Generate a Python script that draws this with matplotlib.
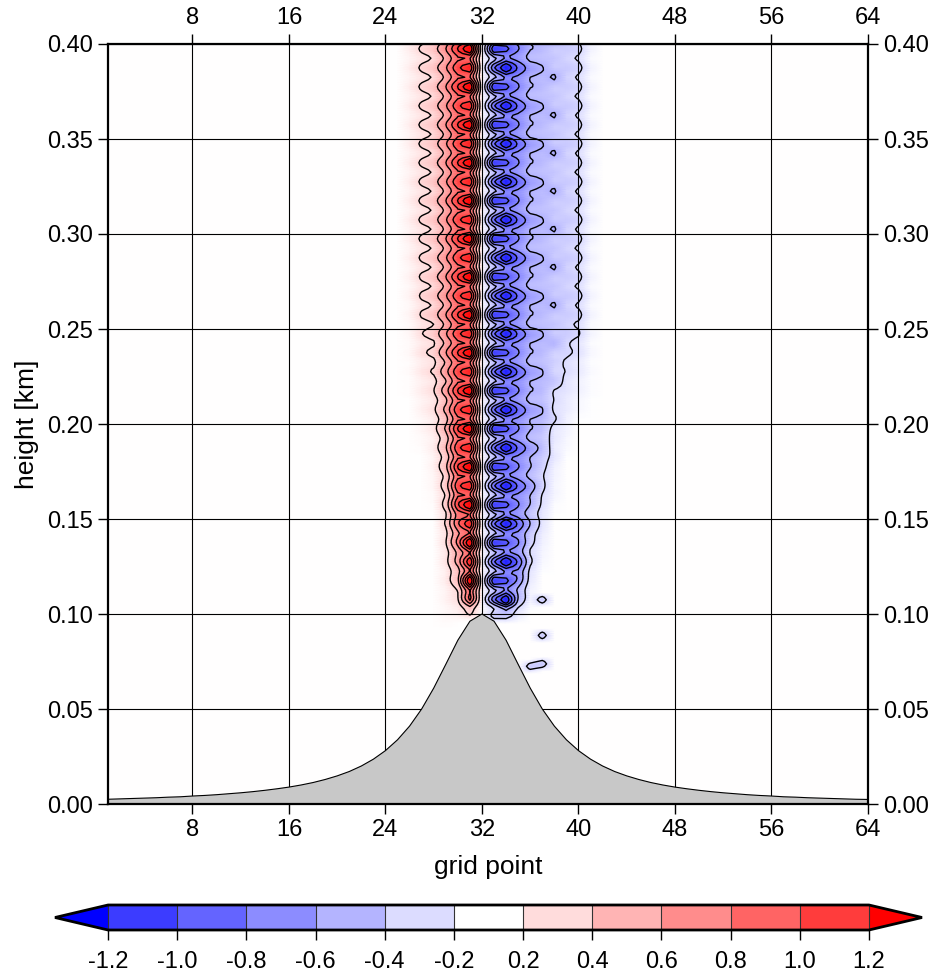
import numpy as np
import matplotlib
matplotlib.use("Agg")
import matplotlib.pyplot as plt
from matplotlib.colors import ListedColormap, BoundaryNorm, LinearSegmentedColormap
import matplotlib.colorbar as mcolorbar

plt.rcParams['font.family'] = ['Liberation Sans', 'DejaVu Sans']

# ---------------- data ----------------
grid_x = np.arange(1, 65)
# terrain height [km] at every grid point 1..64
terrain_km = [0.0025, 0.0027, 0.0029, 0.0031, 0.0033, 0.0036, 0.0038, 0.0042,
              0.0045, 0.0049, 0.0054, 0.0059, 0.0065, 0.0072, 0.0080, 0.0089,
              0.0100, 0.0113, 0.0129, 0.0148, 0.0171, 0.0200, 0.0236, 0.0281,
              0.0338, 0.0410, 0.0500, 0.0610, 0.0735, 0.0862, 0.0962, 0.1000,
              0.0962, 0.0862, 0.0735, 0.0610, 0.0500, 0.0410, 0.0338, 0.0281,
              0.0236, 0.0200, 0.0171, 0.0148, 0.0129, 0.0113, 0.0100, 0.0089,
              0.0080, 0.0072, 0.0065, 0.0059, 0.0054, 0.0049, 0.0045, 0.0042,
              0.0038, 0.0036, 0.0033, 0.0031, 0.0029, 0.0027, 0.0025, 0.0024]

# columns that carry the wave signal
wave_cols = [26, 27, 28, 29, 30, 31, 32, 33, 34, 35, 36, 37, 38, 39, 40, 41]
# value of each column at the 4 model levels of one 0.02 km vertical cycle
# (levels at z = 0.0025, 0.0075, 0.0125, 0.0175 km modulo 0.02 km)
cycle_vals = [
    [0.07, 0.09, 0.07, 0.09],
    [0.17, 0.21, 0.17, 0.21],
    [0.24, 0.29, 0.24, 0.29],
    [0.48, 0.54, 0.48, 0.56],
    [0.83, 0.90, 0.83, 0.96],
    [0.94, 1.06, 0.94, 1.32],
    [0.02, 0.00, 0.02, 0.04],
    [-0.48, -0.64, -0.48, -0.86],
    [-0.74, -1.10, -0.74, -0.76],
    [-0.60, -0.72, -0.56, -0.58],
    [-0.42, -0.48, -0.37, -0.39],
    [-0.37, -0.40, -0.34, -0.35],
    [-0.40, -0.31, -0.29, -0.30],
    [-0.26, -0.28, -0.25, -0.27],
    [-0.20, -0.235, -0.20, -0.23],
    [-0.04, -0.06, -0.04, -0.06],
]
# height where the signal of each column starts and where it is fully developed
onset_km = [0.20, 0.18, 0.15, 0.09, 0.095, 0.097, 0.097, 0.095, 0.095, 0.095, 0.10, 0.12, 0.15, 0.18, 0.20, 0.20]
full_km = [0.30, 0.26, 0.26, 0.24, 0.16, 0.112, 0.112, 0.108, 0.106, 0.12, 0.16, 0.20, 0.25, 0.25, 0.255, 0.26]

# small isolated features below / beside the main wave (x, z, value)
blob_x = [37, 37, 36, 37]
blob_z = [0.108, 0.089, 0.0725, 0.0735]
blob_v = [-0.30, -0.30, -0.29, -0.31]

# colour bar
cbar_bounds = [-1.2, -1.0, -0.8, -0.6, -0.4, -0.2, 0.2, 0.4, 0.6, 0.8, 1.0, 1.2]
cbar_colors = ['#3c3cff', '#6464ff', '#8c8cff', '#b4b4ff', '#dcdcff', '#ffffff',
               '#ffdcdc', '#ffb4b4', '#ff8c8c', '#ff6464', '#ff3c3c']

# ---------------- build field ----------------
dz_fine = 0.00125                      # drawing resolution (4 per model level)
z_fine = np.arange(0.0, 0.4 + 1e-9, dz_fine)
n_sub = 16                             # fine points per 0.02 km cycle


def periodic_upsample(vals, n):
    """trigonometric interpolation of one periodic cycle"""
    c = np.fft.rfft(vals)
    return np.fft.irfft(c, n) * n / len(vals)


F = np.zeros((len(z_fine), len(grid_x)))
phase_idx = np.round((z_fine - 0.0025) / dz_fine).astype(int) % n_sub
for j, xc in enumerate(wave_cols):
    cyc = periodic_upsample(np.array(cycle_vals[j]), n_sub)
    env = np.interp(z_fine, [onset_km[j], full_km[j]], [0.0, 1.0])
    F[:, xc - 1] = cyc[phase_idx] * env
blob_shape = np.array([0.45, 0.8, 1.0, 0.8, 0.45])
for bx, bz, bv in zip(blob_x, blob_z, blob_v):
    k = int(round(bz / dz_fine))
    F[k - 2:k + 3, bx - 1] = np.minimum(F[k - 2:k + 3, bx - 1], bv * blob_shape)

# continuous colour map for shading (colour at each band boundary)
node_v = [-1.4, -1.2, -1.0, -0.8, -0.6, -0.4, -0.2, 0.0, 0.2, 0.4, 0.6, 0.8, 1.0, 1.2, 1.4]
node_c = ['#0000ff', '#1e1eff', '#3c3cff', '#6464ff', '#8c8cff', '#b4b4ff', '#dcdcff', '#ffffff',
          '#ffdcdc', '#ffb4b4', '#ff8c8c', '#ff6464', '#ff3c3c', '#ff1e1e', '#ff0000']
cmap_cont = LinearSegmentedColormap.from_list(
    'bwr_c', [((v + 1.4) / 2.8, c) for v, c in zip(node_v, node_c)])

# ---------------- plot ----------------
fig = plt.figure(figsize=(9.3, 9.72), dpi=100)
ax = fig.add_axes([108 / 930, 168 / 972, 760 / 930, 760 / 972])

Xg, Zg = np.meshgrid(grid_x, z_fine)
ax.pcolormesh(Xg, Zg, F, cmap=cmap_cont, vmin=-1.4, vmax=1.4, shading='gouraud', zorder=0)
ax.contour(Xg, Zg, F, levels=cbar_bounds, colors='k', linewidths=1.0,
           linestyles='solid', zorder=1)

ax.set_xlim(1, 64)
ax.set_ylim(0, 0.4)
ax.set_xticks([8, 16, 24, 32, 40, 48, 56, 64])
ax.set_yticks(np.arange(0, 0.401, 0.05))
ax.yaxis.set_major_formatter(matplotlib.ticker.FormatStrFormatter('%.2f'))
ax.grid(True, color='k', linewidth=0.8)
ax.set_axisbelow(False)

ax.fill_between(grid_x, 0, terrain_km, facecolor='#c8c8c8', edgecolor='none', zorder=3)
ax.plot(grid_x, terrain_km, color='k', linewidth=0.8, zorder=3.1)

for s in ax.spines.values():
    s.set_linewidth(1.6)
    s.set_zorder(5)

ax.tick_params(direction='out', length=7, width=1, top=True, right=True,
               labeltop=True, labelright=True, labelsize=17, pad=4)
ax.set_xlabel('grid point', fontsize=19, labelpad=10)
ax.set_ylabel('height [km]', fontsize=19, labelpad=6)

# colour bar: axes spans the triangle tips, interior spans the plot width
cax = fig.add_axes([55 / 930, 42 / 972, 867 / 930, 25 / 972])
cmap_bar = ListedColormap(cbar_colors)
cmap_bar.set_under('#0000ff')
cmap_bar.set_over('#ff0000')
norm_bar = BoundaryNorm(cbar_bounds, cmap_bar.N)
cb = mcolorbar.ColorbarBase(cax, cmap=cmap_bar, norm=norm_bar, orientation='horizontal',
                            extend='both', extendfrac=53 / 760, ticks=cbar_bounds,
                            spacing='uniform', drawedges=True)
cb.outline.set_linewidth(2.0)
cb.dividers.set_linewidth(0.8)
cb.dividers.set_color('#333333')
cb.set_ticklabels(['%.1f' % b for b in cbar_bounds])
cax.tick_params(direction='out', length=7, width=1, labelsize=17, pad=8)

fig.savefig('out.png', dpi=100)
